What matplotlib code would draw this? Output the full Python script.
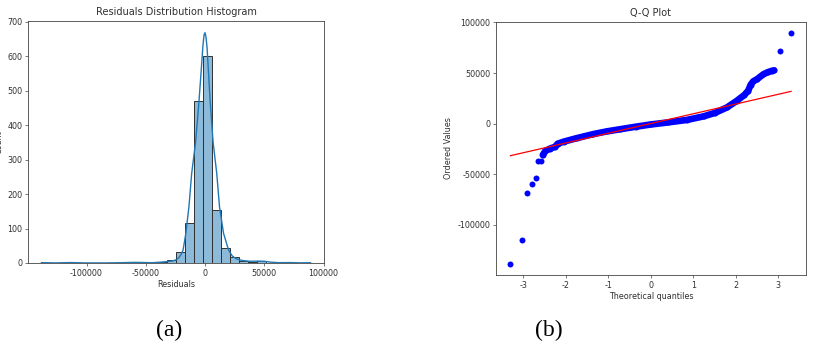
import numpy as np
import matplotlib
matplotlib.use("Agg")
import matplotlib.pyplot as plt

# ---------------- data ----------------
# Histogram: 30 equal bins between min and max residual
hist_min = -138000
hist_max = 89000
hist_counts = [1, 0, 0, 1, 0, 0, 0, 0, 0, 1,
               1, 1, 0, 2, 9, 31, 115, 470, 600, 153,
               44, 16, 6, 4, 5, 1, 0, 1, 0, 1]

# KDE curve (scaled to counts)
kde_x = [-138000, -126000, -114000, -100000, -85000, -69000, -60000, -53000,
         -45000, -37000, -32000, -27000, -24000, -22000, -20000, -18500,
         -16200, -13600, -11300, -8000, -5100, -3200, -1800, -800, 0, 800,
         1700, 2800, 4300, 6800, 9900, 12200, 15600, 19800, 23000, 27000,
         32000, 38000, 44000, 50000, 55000, 62000, 72000, 80000, 89000]
kde_y = [1.0, 0.3, 1.2, 0.2, 0.2, 1.0, 1.8, 1.5,
         0.8, 2.5, 4, 6, 10, 16, 26, 38,
         86, 163, 259, 350, 470, 560, 630, 662, 668, 655,
         625, 560, 470, 350, 259, 163, 86, 38, 20, 11,
         7, 5, 5.5, 5, 2.5, 1, 1.2, 0.5, 0.8]

# Q-Q plot: theoretical quantiles vs ordered residuals
qq_low_x = [-3.30, -3.04, -2.90, -2.79, -2.71, -2.65, -2.58]
qq_low_y = [-138200, -114500, -68750, -59200, -53300, -36500, -36500]
qq_band_x = [-2.54, -2.48, -2.37, -2.25, -2.19, -2.05, -1.74, -1.35, -1.03,
             -0.72, -0.35, 0.0, 0.4, 0.85, 1.24, 1.5, 1.79, 2.02, 2.2,
             2.29, 2.35, 2.41, 2.5, 2.65, 2.75, 2.85, 2.90]
qq_band_y = [-31000, -27000, -24600, -22800, -19800, -17800, -14300, -10300,
             -7600, -5500, -3000, -800, 1200, 3700, 7200, 10500, 16000, 22500,
             28300, 32500, 38500, 41800, 44000, 48800, 50800, 52200, 52630]
qq_high_x = [3.05, 3.30]
qq_high_y = [72040, 89140]
qq_fit_x = [-3.30, 3.30]
qq_fit_y = [-31600, 31900]

hist_xticks = [-100000, -50000, 0, 50000, 100000]
hist_yticks = [0, 100, 200, 300, 400, 500, 600, 700]
qq_xticks = [-3, -2, -1, 0, 1, 2, 3]
qq_yticks = [-100000, -50000, 0, 50000, 100000]

# ---------------- styling ----------------
plt.rcParams['font.family'] = ['DejaVu Sans']
plt.rcParams['axes.unicode_minus'] = False
TXT = '#303030'
SPINE = '#444444'
TICK_FS = 5.8
LAB_FS = 5.8
TITLE_FS = 7.0

fig = plt.figure(figsize=(8.13, 3.44), dpi=100)
ax1 = fig.add_axes([28 / 813, 1 - 263 / 344, 296 / 813, 242 / 344])
ax2 = fig.add_axes([496 / 813, 1 - 275.3 / 344, 310 / 813, 253.6 / 344])

def style(ax):
    for s in ax.spines.values():
        s.set_linewidth(0.6)
        s.set_color(SPINE)
    ax.tick_params(axis='both', labelsize=TICK_FS, length=2.2, width=0.5,
                   pad=2.0, colors=SPINE, labelcolor=TXT)

# ---- histogram ----
edges = np.linspace(hist_min, hist_max, len(hist_counts) + 1)
c0 = '#1f77b4'
ax1.bar(edges[:-1], hist_counts, width=np.diff(edges), align='edge',
        facecolor=(0.122, 0.467, 0.706, 0.5), edgecolor='#303030', linewidth=0.7)
ax1.plot(kde_x, kde_y, color=c0, linewidth=1.0)
ax1.set_xlim(-149350, 100350)
ax1.set_ylim(0, 702)
ax1.set_xticks(hist_xticks)
ax1.set_xticklabels([str(v) for v in hist_xticks])
ax1.set_yticks(hist_yticks)
ax1.set_title('Residuals Distribution Histogram', fontsize=TITLE_FS, color=TXT, pad=4)
ax1.set_xlabel('Residuals', fontsize=LAB_FS, color=TXT, labelpad=1.5)
ax1.set_ylabel('Count', fontsize=LAB_FS, color=TXT)
ax1.yaxis.set_label_coords(-0.083, 0.5)
style(ax1)

# ---- Q-Q plot ----
blue = '#0000ff'
ax2.plot(qq_low_x, qq_low_y, 'o', color=blue, markersize=4.3, markeredgewidth=0)
ax2.plot(qq_band_x, qq_band_y, '-', color=blue, linewidth=4.8,
         solid_capstyle='round', solid_joinstyle='round')
ax2.plot(qq_band_x, qq_band_y, 'o', color=blue, markersize=4.3, markeredgewidth=0)
ax2.plot(qq_high_x, qq_high_y, 'o', color=blue, markersize=4.3, markeredgewidth=0)
ax2.plot(qq_fit_x, qq_fit_y, '-', color='#ff0000', linewidth=0.9)
ax2.set_xlim(-3.64, 3.65)
ax2.set_ylim(-149700, 100660)
ax2.set_xticks(qq_xticks)
ax2.set_xticklabels([str(v) for v in qq_xticks])
ax2.set_yticks(qq_yticks)
ax2.set_yticklabels([str(v) for v in qq_yticks])
ax2.set_title('Q-Q Plot', fontsize=TITLE_FS, color=TXT, pad=4)
ax2.set_xlabel('Theoretical quantiles', fontsize=LAB_FS, color=TXT, labelpad=1.5)
ax2.set_ylabel('Ordered Values', fontsize=LAB_FS, color=TXT, labelpad=3)
style(ax2)

# ---- panel labels ----
fig.text(169 / 813, 1 - 330 / 344, '(a)', family=['Liberation Serif', 'DejaVu Serif'],
         fontsize=17, ha='center', va='center', color='black')
fig.text(548.7 / 813, 1 - 330 / 344, '(b)', family=['Liberation Serif', 'DejaVu Serif'],
         fontsize=17, ha='center', va='center', color='black')

fig.savefig('out.png', dpi=100)
